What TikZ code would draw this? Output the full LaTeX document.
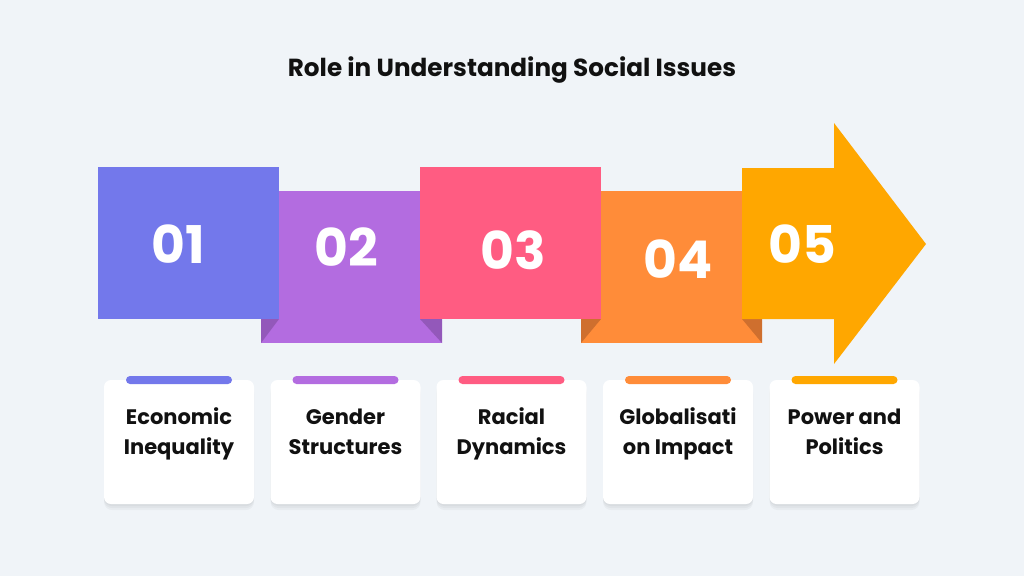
\documentclass[tikz,border=0pt]{standalone}
\usepackage{fontspec}
\setmainfont{Poppins}
\definecolor{bg}{HTML}{F0F4F8}
\definecolor{c1}{HTML}{7378EB}
\definecolor{c2}{HTML}{B36CE0}
\definecolor{c2d}{HTML}{9358BA}
\definecolor{c3}{HTML}{FF5C82}
\definecolor{c4}{HTML}{FF8C39}
\definecolor{c4d}{HTML}{CF6F2E}
\definecolor{c5}{HTML}{FFA700}
\definecolor{txt}{HTML}{111111}
\begin{document}
\begin{tikzpicture}[x=1pt,y=-1pt,
  num/.style={font=\bfseries\fontsize{52}{52}\selectfont, text=white, inner sep=0pt},
  card/.style={fill=white, rounded corners=7pt, minimum width=150pt, minimum height=124pt, inner sep=0pt},
  shade/.style={fill=black, rounded corners=8pt, minimum width=150pt, minimum height=124pt, inner sep=0pt},
  bar/.style={rounded corners=4pt, minimum width=106pt, minimum height=8pt, inner sep=0pt},
  lbl/.style={font=\bfseries\fontsize{21}{30}\selectfont, text=txt, align=center, inner sep=0pt, anchor=base},
  title/.style={font=\bfseries\fontsize{24.7}{28}\selectfont, text=txt, inner sep=0pt, anchor=base}]
\fill[bg] (0,0) rectangle (1024,576);
\useasboundingbox (0,0) rectangle (1024,576);

\node[title] (t) at (512,76) {Role in Understanding Social Issues};

% block 2 (behind)
\fill[c2] (261,191) rectangle (442,343);
\fill[c2d] (261,319) -- (279,319) -- (261,343) -- cycle;
\fill[c2d] (420,319) -- (442,319) -- (442,343) -- cycle;
% block 4 (behind)
\fill[c4] (581,191) rectangle (762,343);
\fill[c4d] (581,319) -- (601,319) -- (581,343) -- cycle;
\fill[c4d] (742,319) -- (762,319) -- (762,343) -- cycle;
% block 1, 3
\fill[c1] (98,167) rectangle (279,319);
\fill[c3] (420,167) rectangle (601,319);
% block 5 arrow
\fill[c5] (742,168) -- (834,168) -- (834,123) -- (926,244) -- (834,364) -- (834,319) -- (742,319) -- cycle;

\node[num] (n1) at (178,244.5) {01};
\node[num] (n2) at (346,247) {02};
\node[num] (n3) at (513,250) {03};
\node[num] (n4) at (678.5,259) {04};
\node[num] (n5) at (802,244.5) {05};

\foreach \i/\x/\c/\a/\b in {1/179/c1/Economic/Inequality, 2/345.5/c2/Gender/Structures, 3/511.5/c3/Racial/Dynamics, 4/678/c4/Globalisati/on Impact, 5/844.5/c5/Power and/Politics}{
  \node[shade, opacity=0.03] at (\x,448) {};
  \node[shade, opacity=0.03] at (\x,446) {};
  \node[shade, opacity=0.03] at (\x,444) {};
  \node[card] (k\i) at (\x,442) {};
  \node[bar, fill=\c] (b\i) at (\x,380) {};
  \node[lbl] (l\i) at (\x,454) {\a\\\b};
}
\end{tikzpicture}
\end{document}
